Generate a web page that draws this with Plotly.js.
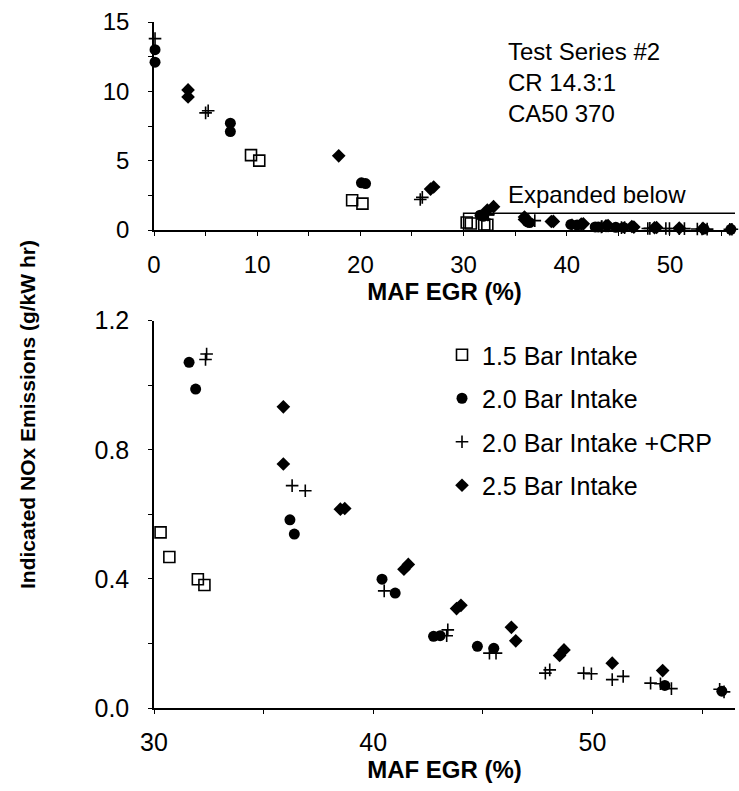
<!DOCTYPE html>
<html>
<head>
<meta charset="utf-8">
<script src="https://cdn.plot.ly/plotly-3.0.1.min.js"></script>
<style>
  html, body { margin: 0; padding: 0; background: #fff; }
  #chart { width: 739px; height: 791px; }
</style>
</head>
<body>
<div id="chart"></div>
<script>
// ---------------- DATA ----------------
const seriesNames = ["1.5 Bar Intake", "2.0 Bar Intake", "2.0 Bar Intake +CRP", "2.5 Bar Intake"];

const egr15 = [9.4, 10.2, 19.2, 20.2, 30.3, 30.7, 32.0, 32.3];
const nox15 = [5.4, 5.0, 2.15, 1.9, 0.544, 0.468, 0.399, 0.381];

const egr20 = [0.1, 0.1, 7.4, 7.4, 20.1, 20.5, 31.6, 31.9, 36.2, 36.4, 40.4, 41.0, 42.75, 43.05, 44.75, 45.5, 53.3, 55.9];
const nox20 = [13.0, 12.1, 7.7, 7.1, 3.4, 3.35, 1.071, 0.988, 0.583, 0.539, 0.399, 0.356, 0.222, 0.224, 0.191, 0.185, 0.070, 0.052];

const egr20crp = [0.1, 5.0, 5.25, 25.8, 26.0, 32.4, 32.35, 36.3, 36.9, 40.5, 43.4, 43.35, 45.3, 45.6, 47.85, 48.05, 49.6, 49.95, 50.9, 51.4, 52.65, 53.1, 53.6, 55.8, 56.0];
const nox20crp = [13.8, 8.45, 8.6, 2.2, 2.35, 1.097, 1.080, 0.689, 0.673, 0.363, 0.242, 0.224, 0.170, 0.170, 0.108, 0.118, 0.108, 0.106, 0.088, 0.098, 0.077, 0.075, 0.060, 0.058, 0.050];

const egr25 = [3.3, 3.3, 17.9, 26.8, 27.1, 32.3, 32.9, 35.9, 35.9, 38.5, 38.7, 41.4, 41.6, 43.8, 44.0, 46.3, 46.5, 48.5, 48.7, 50.9, 53.2];
const nox25 = [10.1, 9.6, 5.35, 2.95, 3.1, 1.44, 1.68, 0.933, 0.756, 0.616, 0.618, 0.43, 0.445, 0.308, 0.318, 0.25, 0.208, 0.163, 0.18, 0.139, 0.116];

const topXTicks = [0, 10, 20, 30, 40, 50];
const topYTicks = [0, 5, 10, 15];
const botXTicks = [30, 40, 50];
const botYTicks = [0.0, 0.4, 0.8, 1.2];

const noteText = "Test Series #2<br>CR 14.3:1<br>CA50 370";
const boxText = "Expanded below";
const xTitle = "MAF EGR (%)";
const yTitle = "Indicated NOx Emissions (g/kW hr)";

// ---------------- STYLE ----------------
const FONT = "Liberation Sans, Arial, Helvetica, sans-serif";
const W = 739, H = 791;
const M = { l: 154, r: 4, t: 22, b: 83 };
const PW = W - M.l - M.r, PH = H - M.t - M.b;
const fx = px => (px - M.l) / PW;
const fy = py => (H - M.b - py) / PH;

const markers = [
  { symbol: "square-open", size: 11, color: "#000", line: { color: "#000", width: 1.6 } },
  { symbol: "circle", size: 11, color: "#000", line: { width: 0 } },
  { symbol: "cross-thin-open", size: 9, color: "#000", line: { color: "#000", width: 1.6 } },
  { symbol: "diamond", size: 10.5, color: "#000", line: { width: 0 } }
];
const xs = [egr15, egr20, egr20crp, egr25];
const ys = [nox15, nox20, nox20crp, nox25];

const traces = [];
for (let i = 0; i < 4; i++) {
  traces.push({
    type: "scatter", mode: "markers", name: seriesNames[i],
    x: xs[i], y: ys[i], xaxis: "x", yaxis: "y",
    marker: markers[i], showlegend: false, legendgroup: "g" + i,
    cliponaxis: false, hoverinfo: "x+y+name"
  });
}
for (let i = 0; i < 4; i++) {
  traces.push({
    type: "scatter", mode: "markers", name: seriesNames[i],
    x: xs[i], y: ys[i], xaxis: "x2", yaxis: "y2",
    marker: markers[i], showlegend: true, legendgroup: "g" + i,
    cliponaxis: true, hoverinfo: "x+y+name"
  });
}

const axBase = {
  showline: true, linecolor: "#000", linewidth: 1.5,
  showgrid: false, zeroline: false,
  ticks: "outside", ticklen: 4, tickwidth: 1, tickcolor: "#000",
  color: "#000", automargin: false
};

const layout = {
  width: W, height: H,
  margin: M,
  paper_bgcolor: "#fff", plot_bgcolor: "#fff",
  font: { family: FONT, color: "#000", size: 24 },
  showlegend: true,
  legend: {
    x: fx(442), y: fy(332), xanchor: "left", yanchor: "top",
    font: { family: FONT, size: 25, color: "#000" },
    itemwidth: 30, tracegroupgap: 8, traceorder: "grouped",
    bgcolor: "rgba(0,0,0,0)", borderwidth: 0
  },
  xaxis: Object.assign({}, axBase, {
    domain: [0, 1], anchor: "y", range: [0, 56.3],
    tickvals: topXTicks, ticktext: topXTicks.map(String),
    minor: { dtick: 5, tick0: 0, ticks: "outside", ticklen: 4, tickcolor: "#000" },
    tickfont: { size: 24 }, ticklabelstandoff: 8,
    title: { text: "<b>" + xTitle + "</b>", font: { size: 24 }, standoff: 5 }
  }),
  yaxis: Object.assign({}, axBase, {
    domain: [fy(230), 1], anchor: "x", range: [0, 15],
    tickvals: topYTicks, ticktext: topYTicks.map(String),
    minor: { dtick: 2.5, tick0: 0, ticks: "outside", ticklen: 4, tickcolor: "#000" },
    tickfont: { size: 24 }, ticklabelstandoff: 14
  }),
  xaxis2: Object.assign({}, axBase, {
    domain: [0, 1], anchor: "y2", range: [30, 56.5],
    tickvals: botXTicks, ticktext: botXTicks.map(String),
    minor: { dtick: 5, tick0: 0, ticks: "outside", ticklen: 4, tickcolor: "#000" },
    tickfont: { size: 25 }, ticklabelstandoff: 7,
    title: { text: "<b>" + xTitle + "</b>", font: { size: 24 }, standoff: 4 }
  }),
  yaxis2: Object.assign({}, axBase, {
    domain: [0, fy(320.7)], anchor: "x2", range: [0, 1.2],
    tickvals: botYTicks, ticktext: botYTicks.map(v => v.toFixed(1)),
    minor: { dtick: 0.2, tick0: 0, ticks: "outside", ticklen: 4, tickcolor: "#000" },
    tickfont: { size: 25 }, ticklabelstandoff: 14
  }),
  shapes: [{
    type: "path", xref: "x", yref: "y",
    path: "M30,0 L30,1.2 L56.3,1.2",
    line: { color: "#000", width: 1.5 }
  }],
  annotations: [
    {
      text: noteText, xref: "paper", yref: "paper",
      x: fx(506), y: fy(36), xanchor: "left", yanchor: "top",
      align: "left", showarrow: false, font: { size: 24, family: FONT }
    },
    {
      text: boxText, xref: "paper", yref: "paper",
      x: fx(506), y: fy(195), xanchor: "left", yanchor: "middle",
      showarrow: false, font: { size: 24, family: FONT }
    },
    {
      text: "<b>" + yTitle + "</b>", xref: "paper", yref: "paper",
      x: fx(27), y: fy(415), xanchor: "center", yanchor: "middle",
      textangle: -90, showarrow: false, font: { size: 21, family: FONT }
    }
  ]
};

Plotly.newPlot("chart", traces, layout, { displayModeBar: false, staticPlot: false });
</script>
</body>
</html>
